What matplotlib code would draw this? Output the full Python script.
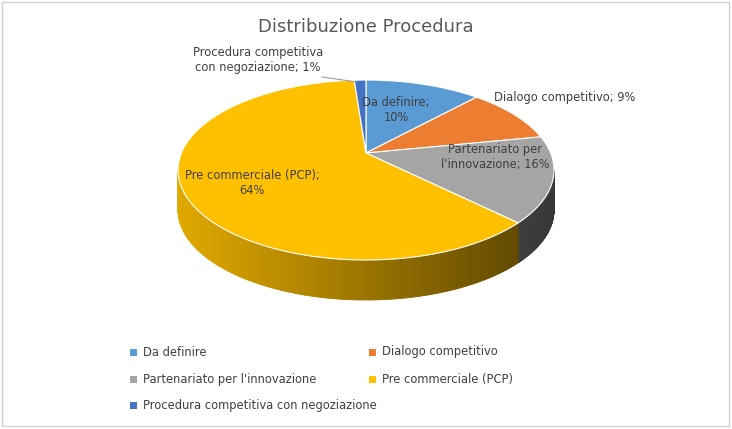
import numpy as np
import matplotlib
matplotlib.use("Agg")
from matplotlib import pyplot as plt
from matplotlib.patches import Polygon, Rectangle
import matplotlib.colors as mc

categories = ["Da definire", "Dialogo competitivo", "Partenariato per l'innovazione",
              "Pre commerciale (PCP)", "Procedura competitiva con negoziazione"]
values = [10, 9, 16, 64, 1]
colors = ["#5B9BD5", "#ED7D31", "#A5A5A5", "#FFC000", "#4472C4"]
labels = ["Da definire;\n10%", "Dialogo competitivo; 9%", "Partenariato per\nl'innovazione; 16%",
          "Pre commerciale (PCP);\n64%", "Procedura competitiva\ncon negoziazione; 1%"]

fig = plt.figure(figsize=(7.32, 4.29), dpi=100)
ax = fig.add_axes([0, 0, 1, 1])
ax.set_xlim(0, 732)
ax.set_ylim(429, 0)
ax.axis("off")
ax.add_patch(Rectangle((2, 2), 727, 424, fill=False, ec="#D0D0D0", lw=1))

cx, cy, rx, ry, depth = 366, 170, 188, 90, 40
vx, vy = 366, 153  # apex of slices (perspective)
font = "DejaVu Sans"
fs = 8.3

def pt(t, dy=0):
    r = np.radians(t)
    return cx + rx * np.cos(r), cy - ry * np.sin(r) + dy

total = sum(values)
cum = np.concatenate([[0], np.cumsum(values)])
angles = [(90 - 360 * cum[i] / total, 90 - 360 * cum[i + 1] / total) for i in range(len(values))]

# side faces (front half only), shaded by position
for (t1, t2), col in zip(angles, colors):
    ts = np.linspace(t2, t1, 200)
    base = np.array(mc.to_rgb(col))
    for a, b in zip(ts[:-1], ts[1:]):
        m = ((a + b) / 2) % 360
        if not (180 <= m <= 360):
            continue
        f = 0.88 - 0.55 * (np.cos(np.radians(m)) + 1) / 2
        pts = [pt(a), pt(b), pt(b, depth), pt(a, depth)]
        ax.add_patch(Polygon(pts, closed=True, fc=base * f, ec=base * f, lw=0.6))

# top faces
for (t1, t2), col in zip(angles, colors):
    ts = np.linspace(t1, t2, 120)
    pts = [(vx, vy)] + [pt(t) for t in ts]
    ax.add_patch(Polygon(pts, closed=True, fc=col, ec="white", lw=0.8))

# data labels
ax.text(396, 110, labels[0], fontsize=fs, color="#404040", ha="center", va="center", family=font, linespacing=1.2)
ax.text(565, 97, labels[1], fontsize=fs, color="#404040", ha="center", va="center", family=font)
ax.text(495, 157, labels[2], fontsize=fs, color="#404040", ha="center", va="center", family=font, linespacing=1.2)
ax.text(252, 183, labels[3], fontsize=fs, color="#404040", ha="center", va="center", family=font, linespacing=1.3)
ax.text(258, 60, labels[4], fontsize=fs, color="#404040", ha="center", va="center", family=font, linespacing=1.2)
ax.plot([322, 357], [77, 82], color="#A0A0A0", lw=0.8)

ax.text(366, 27, "Distribuzione Procedura", fontsize=13, color="#595959", ha="center", va="center", family=font)

# legend
pos = [(133, 352), (372, 352), (133, 379), (372, 379), (133, 405)]
for (x, y), cat, col in zip(pos, categories, colors):
    ax.add_patch(Rectangle((x - 3.5, y - 3.5), 7, 7, fc=col, ec="none"))
    ax.text(x + 10, y, cat, fontsize=fs, color="#404040", ha="left", va="center", family=font)

fig.savefig("out.png", dpi=100)
